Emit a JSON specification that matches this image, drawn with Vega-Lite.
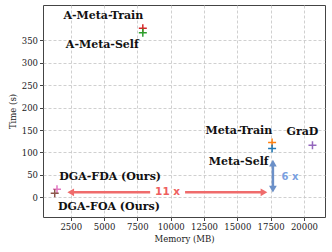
{
  "$schema": "https://vega.github.io/schema/vega-lite/v6.json",
  "width": 282,
  "height": 212,
  "autosize": "none",
  "padding": {"left": 43, "top": 5, "right": 7, "bottom": 35},
  "background": "white",
  "config": {
    "view": {"stroke": "#444", "strokeWidth": 1},
    "axis": {
      "labelFont": "DejaVu Serif", "labelFontSize": 8.5, "labelColor": "#222",
      "titleFont": "DejaVu Serif", "titleFontSize": 8.5, "titleFontWeight": "normal", "titleColor": "#222",
      "tickColor": "#444", "tickSize": 3.5, "labelPadding": 2,
      "domain": false,
      "gridColor": "#c4c4c4", "gridDash": [3, 2], "gridWidth": 0.8
    }
  },
  "datasets": {
    "pts": [
      {"method": "A-Meta-Train", "memory": 7910, "time": 377},
      {"method": "A-Meta-Self", "memory": 7910, "time": 367},
      {"method": "Meta-Train", "memory": 17610, "time": 122},
      {"method": "Meta-Self", "memory": 17610, "time": 109},
      {"method": "GraD", "memory": 20640, "time": 116},
      {"method": "DGA-FDA (Ours)", "memory": 1470, "time": 18},
      {"method": "DGA-FOA (Ours)", "memory": 1300, "time": 9}
    ],
    "labels": [
      {"text": "A-Meta-Train", "memory": 4950, "time": 405},
      {"text": "A-Meta-Self", "memory": 4870, "time": 339},
      {"text": "Meta-Train", "memory": 15120, "time": 147},
      {"text": "GraD", "memory": 19890, "time": 145},
      {"text": "Meta-Self", "memory": 15100, "time": 79},
      {"text": "DGA-FDA (Ours)", "memory": 5460, "time": 45},
      {"text": "DGA-FOA (Ours)", "memory": 5370, "time": -21}
    ],
    "redseg": [
      {"x1": 2500, "x2": 8460, "y": 11},
      {"x1": 11080, "x2": 17000, "y": 11}
    ],
    "redheads": [
      {"x": 2500, "y": 11, "shape": "triangle-left"},
      {"x": 17000, "y": 11, "shape": "triangle-right"}
    ],
    "blueseg": [
      {"x": 17670, "y1": 18, "y2": 76}
    ],
    "blueheads": [
      {"x": 17670, "y": 76, "shape": "triangle-up"},
      {"x": 17670, "y": 18, "shape": "triangle-down"}
    ]
  },
  "encoding": {
    "x": {
      "type": "quantitative",
      "scale": {"domain": [420, 21580], "nice": false, "zero": false},
      "axis": {"title": "Memory (MB)", "format": "d", "values": [2500, 5000, 7500, 10000, 12500, 15000, 17500, 20000], "titlePadding": 3}
    },
    "y": {
      "type": "quantitative",
      "scale": {"domain": [-44, 429], "nice": false, "zero": false},
      "axis": {"title": "Time (s)", "format": "d", "values": [0, 50, 100, 150, 200, 250, 300, 350], "titlePadding": 4}
    }
  },
  "layer": [
    {
      "data": {"name": "redseg"},
      "mark": {"type": "rule", "color": "#ef6b6b", "strokeWidth": 2.5},
      "encoding": {
        "x": {"field": "x1", "type": "quantitative"},
        "x2": {"field": "x2"},
        "y": {"field": "y", "type": "quantitative"}
      }
    },
    {
      "data": {"name": "redheads"},
      "mark": {"type": "point", "filled": true, "color": "#ef6b6b", "size": 60, "opacity": 1},
      "encoding": {
        "x": {"field": "x", "type": "quantitative"},
        "y": {"field": "y", "type": "quantitative"},
        "shape": {"field": "shape", "type": "nominal", "scale": null}
      }
    },
    {
      "data": {"name": "blueseg"},
      "mark": {"type": "rule", "color": "#6b90c8", "strokeWidth": 2.5},
      "encoding": {
        "x": {"field": "x", "type": "quantitative"},
        "y": {"field": "y1", "type": "quantitative"},
        "y2": {"field": "y2"}
      }
    },
    {
      "data": {"name": "blueheads"},
      "mark": {"type": "point", "filled": true, "color": "#6b90c8", "size": 60, "opacity": 1},
      "encoding": {
        "x": {"field": "x", "type": "quantitative"},
        "y": {"field": "y", "type": "quantitative"},
        "shape": {"field": "shape", "type": "nominal", "scale": null}
      }
    },
    {
      "data": {"values": [{"t": "11 x", "x": 9770, "y": 11}]},
      "mark": {"type": "text", "color": "#ef5f5f", "font": "DejaVu Sans", "fontSize": 10.5, "fontWeight": "bold", "align": "center", "baseline": "middle"},
      "encoding": {
        "x": {"field": "x", "type": "quantitative"},
        "y": {"field": "y", "type": "quantitative"},
        "text": {"field": "t"}
      }
    },
    {
      "data": {"values": [{"t": "6 x", "x": 18950, "y": 45}]},
      "mark": {"type": "text", "color": "#7aa0e0", "font": "DejaVu Sans", "fontSize": 10, "fontWeight": "bold", "align": "center", "baseline": "middle"},
      "encoding": {
        "x": {"field": "x", "type": "quantitative"},
        "y": {"field": "y", "type": "quantitative"},
        "text": {"field": "t"}
      }
    },
    {
      "data": {"name": "pts"},
      "mark": {"type": "point", "shape": "M-1,0L1,0M0,-1L0,1", "filled": false, "size": 64, "strokeWidth": 1.5, "opacity": 1},
      "encoding": {
        "x": {"field": "memory", "type": "quantitative"},
        "y": {"field": "time", "type": "quantitative"},
        "color": {
          "field": "method", "type": "nominal", "legend": null,
          "scale": {
            "domain": ["A-Meta-Train", "A-Meta-Self", "Meta-Train", "Meta-Self", "GraD", "DGA-FDA (Ours)", "DGA-FOA (Ours)"],
            "range": ["#d62728", "#2ca02c", "#ff7f0e", "#1f77b4", "#9467bd", "#e377c2", "#8c564b"]
          }
        }
      }
    },
    {
      "data": {"name": "labels"},
      "mark": {"type": "text", "font": "DejaVu Serif", "fontWeight": "bold", "fontSize": 11, "color": "#111", "align": "center", "baseline": "middle"},
      "encoding": {
        "x": {"field": "memory", "type": "quantitative"},
        "y": {"field": "time", "type": "quantitative"},
        "text": {"field": "text"}
      }
    }
  ]
}
